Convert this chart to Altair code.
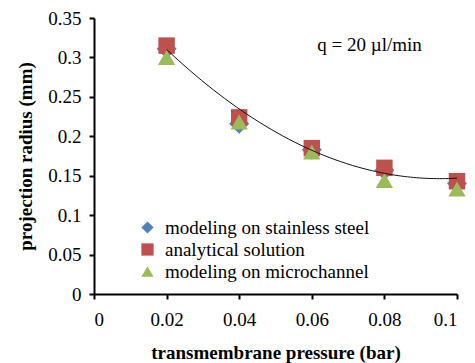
import altair as alt
import pandas as pd

pressure = [0.02, 0.04, 0.06, 0.08, 0.10]
stainless = [0.311, 0.216, 0.183, 0.157, 0.140]
analytical = [0.315, 0.224, 0.185, 0.160, 0.143]
microchannel = [0.300, 0.218, 0.180, 0.144, 0.133]

series_names = ["modeling on stainless steel", "analytical solution", "modeling on microchannel"]
series_values = [stainless, analytical, microchannel]
colors = ["#4F81BD", "#C0504D", "#9BBB59"]
shapes = ["diamond", "square", "triangle-up"]
marker_sizes = [400, 270, 300]

x_ticks = [0, 0.02, 0.04, 0.06, 0.08, 0.1]
y_ticks = [0, 0.05, 0.1, 0.15, 0.2, 0.25, 0.3, 0.35]

rows = []
for name, vals in zip(series_names, series_values):
    for x, y in zip(pressure, vals):
        rows.append({"pressure": x, "radius": y, "series": name})
df = pd.DataFrame(rows)

FONT = "Liberation Serif"

xscale = alt.Scale(domain=[0, 0.1], nice=False, zero=True)
yscale = alt.Scale(domain=[0, 0.35], nice=False)

xaxis = alt.Axis(values=x_ticks, format="~g",
                 title="transmembrane pressure (bar)", grid=False,
                 labelFont=FONT, titleFont=FONT, labelOverlap=False,
                 labelFontSize=19, titleFontSize=19, titlePadding=14,
                 labelPadding=11)
yaxis = alt.Axis(values=y_ticks, format="~g",
                 title="projection radius (mm)", grid=False,
                 labelFont=FONT, titleFont=FONT, labelOverlap=False,
                 labelFontSize=19, titleFontSize=19, titlePadding=12,
                 labelPadding=8)

legend = alt.Legend(title=None, orient="none", legendX=44, legendY=200,
                    labelFont=FONT, labelFontSize=19, labelColor="black",
                    labelLimit=0, symbolSize=150, labelOffset=8,
                    rowPadding=2, symbolStrokeWidth=0, padding=0)

point_layers = []
for name, msize in zip(series_names, marker_sizes):
    point_layers.append(
        alt.Chart(df).transform_filter(alt.datum.series == name)
        .mark_point(filled=True, opacity=1, size=msize).encode(
            x=alt.X("pressure:Q", scale=xscale, axis=xaxis),
            y=alt.Y("radius:Q", scale=yscale, axis=yaxis),
            color=alt.Color("series:N", scale=alt.Scale(domain=series_names, range=colors),
                            legend=legend),
            shape=alt.Shape("series:N", scale=alt.Scale(domain=series_names, range=shapes),
                            legend=legend),
        )
    )

trend = alt.Chart(df).transform_filter(
    alt.datum.series == "analytical solution"
).transform_regression(
    "pressure", "radius", method="poly", order=2, extent=[0.02, 0.1]
).mark_line(color="#111111", strokeWidth=1, interpolate="monotone").encode(
    x=alt.X("pressure:Q", scale=xscale, axis=xaxis),
    y=alt.Y("radius:Q", scale=yscale, axis=yaxis),
)

note = alt.Chart(pd.DataFrame({"t": ["q = 20 \u00b5l/min"], "x": [0.0615], "y": [0.316]})).mark_text(
    font=FONT, fontSize=19, align="left", baseline="middle", color="black"
).encode(x=alt.X("x:Q", scale=xscale, axis=xaxis),
         y=alt.Y("y:Q", scale=yscale, axis=yaxis), text="t:N")

chart = alt.layer(*point_layers, trend, note).properties(
    width=363, height=276,
    autosize=alt.AutoSizeParams(type="none"),
    padding={"left": 86, "top": 10, "right": 10, "bottom": 69},
).configure_view(stroke=None).configure_axis(
    labelFont=FONT, titleFont=FONT, labelColor="black", titleColor="black",
    domainColor="black", domainWidth=2, tickColor="black", tickWidth=2, tickSize=5,
    titleFontWeight="bold", labelOverlap=False,
)

chart.save("out.html", embed_options={"renderer": "svg", "actions": False})
